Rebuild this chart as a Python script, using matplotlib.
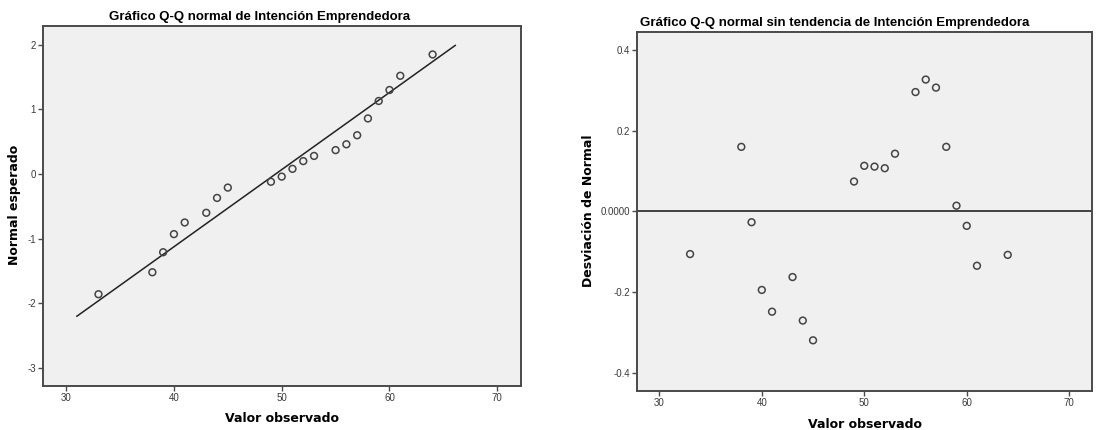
import matplotlib
matplotlib.use('Agg')
from matplotlib import pyplot as plt

# observed values and what SPSS plotted for them
observed = [33, 38, 39, 40, 41, 43, 44, 45, 49, 50, 51, 52, 53, 55, 56, 57, 58, 59, 60, 61, 64]
expected = [-1.86, -1.52, -1.21, -0.93, -0.75, -0.60, -0.37, -0.21, -0.12, -0.04, 0.08,
            0.20, 0.28, 0.37, 0.46, 0.60, 0.86, 1.13, 1.30, 1.52, 1.85]
deviation = [-0.106, 0.160, -0.027, -0.195, -0.249, -0.163, -0.271, -0.320, 0.074, 0.113, 0.111,
             0.107, 0.143, 0.296, 0.327, 0.307, 0.160, 0.014, -0.036, -0.135, -0.108]

# reference line ends
line_x = [31.0, 66.1]
line_y = [-2.20, 1.99]

left_ticks = [-3, -2, -1, 0, 1, 2]
right_ticks = [-0.4, -0.2, 0.0, 0.2, 0.4]
right_labels = ['-0.4', '-0.2', '0.0000', '0.2', '0.4']
x_ticks = [30, 40, 50, 60, 70]

bg = '#f0f0f0'
frame = '#4a4a4a'

fig = plt.figure(figsize=(11.13, 4.30), dpi=100)
ax1 = fig.add_axes([0.0386, 0.1023, 0.4295, 0.8372])
ax2 = fig.add_axes([0.5726, 0.0914, 0.4083, 0.8342])


def style(ax):
    ax.set_facecolor(bg)
    for s in ax.spines.values():
        s.set_color(frame)
        s.set_linewidth(1.4)
    ax.tick_params(direction='out', length=3.5, width=1, color=frame,
                   labelsize=7, labelcolor='#3a3a3a', pad=1.5)
    for lab in ax.get_xticklabels() + ax.get_yticklabels():
        lab.set_family('Liberation Sans')
    ax.set_xticks(x_ticks)
    ax.set_xlim(27.85, 72.2)


style(ax1)
ax1.plot(line_x, line_y, color='#222222', lw=1.1)
ax1.scatter(observed, expected, s=24, facecolors='none', edgecolors='#444444', linewidths=1.1, zorder=3)
ax1.set_ylim(-3.28, 2.29)
ax1.set_yticks(left_ticks)
ax1.set_yticklabels([str(t) for t in left_ticks], family='Liberation Sans')
ax1.set_xticklabels([str(t) for t in x_ticks], family='Liberation Sans')

style(ax2)
ax2.axhline(0, color='#111111', lw=1.1)
ax2.scatter(observed, deviation, s=24, facecolors='none', edgecolors='#444444', linewidths=1.1, zorder=3)
ax2.set_ylim(-0.445, 0.445)
ax2.set_yticks(right_ticks)
ax2.set_yticklabels(right_labels, family='Liberation Sans')
ax2.set_xticklabels([str(t) for t in x_ticks], family='Liberation Sans')

fig.text(260 / 1113, 1 - 17 / 430, 'Gráfico Q-Q normal de Intención Emprendedora',
         ha='center', va='center', fontsize=9.5, fontweight='bold', family='Liberation Sans')
fig.text(835 / 1113, 1 - 23 / 430, 'Gráfico Q-Q normal sin tendencia de Intención Emprendedora',
         ha='center', va='center', fontsize=9.5, fontweight='bold', family='Liberation Sans')

fig.text(282 / 1113, 1 - 418 / 430, 'Valor observado', ha='center', va='center',
         fontsize=9, fontweight='bold')
fig.text(865 / 1113, 1 - 424 / 430, 'Valor observado', ha='center', va='center',
         fontsize=9, fontweight='bold')
fig.text(15 / 1113, 1 - 205 / 430, 'Normal esperado', ha='center', va='center',
         rotation=90, fontsize=9, fontweight='bold')
fig.text(589 / 1113, 1 - 211 / 430, 'Desviación de Normal', ha='center', va='center',
         rotation=90, fontsize=9, fontweight='bold')

plt.savefig('out.png', dpi=100)
